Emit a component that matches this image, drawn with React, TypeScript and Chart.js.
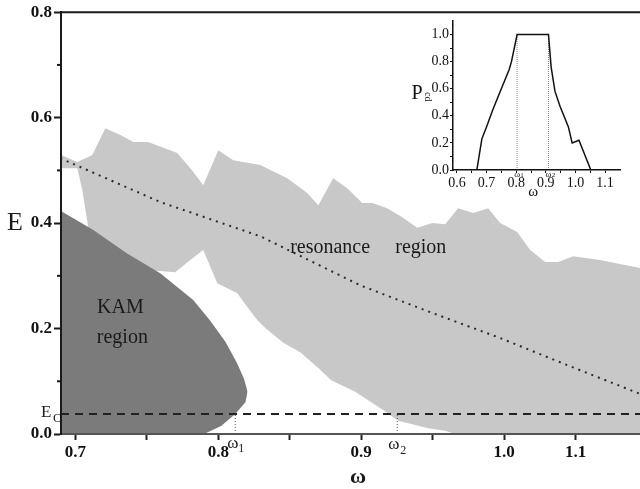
import React, { useEffect, useRef } from 'react';
import { Chart, registerables } from 'chart.js';

Chart.register(...registerables);

const FONT = "'Liberation Serif', 'Times New Roman', serif";

// ---- Main chart data (ω, E) ----
const resUpperOmega = [0.6902, 0.7014, 0.7119, 0.721, 0.7315, 0.7406, 0.751, 0.7713, 0.7818, 0.7895, 0.8, 0.8105, 0.8294, 0.8483, 0.8622, 0.87, 0.8804, 0.8902, 0.9007, 0.9077, 0.9182, 0.9287, 0.9392, 0.9497, 0.9587, 0.9678, 0.9783, 0.9888, 0.9972, 1.0091, 1.0182, 1.0287, 1.0378, 1.0483, 1.0671, 1.0951, 1.1];
const resUpperE = [0.529, 0.516, 0.529, 0.58, 0.567, 0.554, 0.554, 0.533, 0.5, 0.472, 0.538, 0.519, 0.51, 0.485, 0.457, 0.434, 0.485, 0.466, 0.438, 0.438, 0.428, 0.411, 0.391, 0.4, 0.398, 0.428, 0.419, 0.428, 0.4, 0.383, 0.349, 0.326, 0.326, 0.337, 0.33, 0.315, 0.314];
const resLowerOmega = [0.6902, 0.7014, 0.7049, 0.7077, 0.7105, 0.7315, 0.7545, 0.7699, 0.7804, 0.7895, 0.7993, 0.8133, 0.8203, 0.8273, 0.8329, 0.8455, 0.8573, 0.87, 0.879, 0.8958, 0.9161, 0.9259, 0.9469, 0.9587, 0.9657, 1.1];
const resLowerE = [0.504, 0.504, 0.463, 0.415, 0.368, 0.33, 0.31, 0.307, 0.33, 0.349, 0.286, 0.267, 0.241, 0.216, 0.201, 0.173, 0.155, 0.125, 0.102, 0.08, 0.044, 0.025, 0.011, 0.006, 0, 0];

const kamUpperOmega = [0.69, 0.7126, 0.736, 0.7594, 0.7825, 0.794, 0.805, 0.813, 0.818, 0.8205];
const kamUpperE = [0.423, 0.387, 0.343, 0.305, 0.254, 0.216, 0.175, 0.135, 0.105, 0.08];
const kamLowerOmega = [0.69, 0.79, 0.802, 0.8119, 0.819, 0.8205];
const kamLowerE = [0, 0, 0.015, 0.038, 0.06, 0.08];

const dottedOmega = [0.6895, 0.7594, 0.8294, 0.8993, 0.9483, 0.9972, 1.0392, 1.0671, 1.0951];
const dottedE = [0.523, 0.44, 0.375, 0.282, 0.231, 0.182, 0.136, 0.106, 0.076];

const E0 = 0.038;
const omega1 = 0.8119;
const omega2 = 0.9252;

const xTickValues = [0.7, 0.75, 0.8, 0.85, 0.9, 0.95, 1.0, 1.05];
const xTickLabels = ['0.7', '', '0.8', '', '0.9', '', '1.0', '1.1'];
const yTickValues = [0, 0.2, 0.4, 0.6, 0.8];
const yTickLabels = ['0.0', '0.2', '0.4', '0.6', '0.8'];
const yMinorTicks = [0.1, 0.3, 0.5, 0.7];

// ---- Inset data (ω, P_cd) ----
const insetOmega = [0.667, 0.684, 0.7, 0.72, 0.748, 0.776, 0.784, 0.803, 0.909, 0.918, 0.931, 0.948, 0.976, 0.989, 1.012, 1.052];
const insetP = [0, 0.23, 0.32, 0.44, 0.59, 0.74, 0.8, 1.0, 1.0, 0.76, 0.58, 0.47, 0.32, 0.2, 0.22, 0];
const insetOmega1 = 0.803;
const insetOmega2 = 0.909;
const insetXTickValues = [0.6, 0.65, 0.7, 0.75, 0.8, 0.85, 0.9, 0.95, 1.0, 1.05, 1.1];
const insetXTickLabels = ['0.6', '', '0.7', '', '0.8', '', '0.9', '', '1.0', '', '1.1'];
const insetYTickValues = [0, 0.1, 0.2, 0.3, 0.4, 0.5, 0.6, 0.7, 0.8, 0.9, 1.0];
const insetYTickLabels = ['0.0', '', '0.2', '', '0.4', '', '0.6', '', '0.8', '', '1.0'];

const pts = (xs: number[], ys: number[]) => xs.map((x, i) => ({ x, y: ys[i] }));
const NONE = 'rgba(0,0,0,0)';

const mainDecor = {
  id: 'mainDecor',
  afterDraw(chart: any) {
    const { ctx, chartArea: a, scales } = chart;
    const x = scales.x;
    const y = scales.y;
    ctx.save();
    ctx.strokeStyle = '#1a1a1a';
    ctx.lineWidth = 2;
    ctx.beginPath();
    ctx.moveTo(a.left - 1, a.top);
    ctx.lineTo(a.right, a.top);
    ctx.stroke();
    yMinorTicks.forEach((v) => {
      const py = y.getPixelForValue(v);
      ctx.beginPath();
      ctx.moveTo(a.left - 4, py);
      ctx.lineTo(a.left, py);
      ctx.stroke();
    });
    ctx.fillStyle = '#1a1a1a';
    ctx.textBaseline = 'middle';
    ctx.textAlign = 'center';
    ctx.font = `20px ${FONT}`;
    ctx.fillText('KAM', x.getPixelForValue(0.7315), y.getPixelForValue(0.239));
    ctx.fillText('region', x.getPixelForValue(0.7329), y.getPixelForValue(0.182));
    ctx.textAlign = 'left';
    ctx.fillText('resonance', x.getPixelForValue(0.8503), y.getPixelForValue(0.353));
    ctx.fillText('region', x.getPixelForValue(0.9238), y.getPixelForValue(0.353));
    // axis titles
    ctx.textAlign = 'center';
    ctx.font = `26px ${FONT}`;
    ctx.fillText('E', a.left - 46, y.getPixelForValue(0.4));
    ctx.font = `bold 22px ${FONT}`;
    ctx.fillText('ω', 358, 477);
    // E0 label
    const pe = y.getPixelForValue(E0);
    ctx.textAlign = 'left';
    ctx.textBaseline = 'alphabetic';
    ctx.font = `17px ${FONT}`;
    ctx.fillText('E', 41, pe + 3);
    ctx.font = `13px ${FONT}`;
    ctx.fillText('O', 53, pe + 8);
    // omega labels
    const p1 = x.getPixelForValue(omega1);
    const p2 = x.getPixelForValue(omega2);
    ctx.font = `17px ${FONT}`;
    ctx.fillText('ω', p1 - 8, a.bottom + 14);
    ctx.fillText('ω', p2 - 9, a.bottom + 15);
    ctx.font = `12px ${FONT}`;
    ctx.fillText('1', p1 + 3, a.bottom + 18);
    ctx.fillText('2', p2 + 3, a.bottom + 20);
    ctx.restore();
  },
};

const insetDecor = {
  id: 'insetDecor',
  afterDraw(chart: any) {
    const { ctx, chartArea: a, scales } = chart;
    const x = scales.x;
    ctx.save();
    ctx.fillStyle = '#111';
    ctx.textAlign = 'center';
    ctx.textBaseline = 'alphabetic';
    ctx.font = `20px ${FONT}`;
    ctx.fillText('P', 37, 99);
    ctx.save();
    ctx.translate(45, 92);
    ctx.rotate(Math.PI / 2);
    ctx.font = `10px ${FONT}`;
    ctx.textAlign = 'left';
    ctx.fillText('cd', 0, 0);
    ctx.restore();
    ctx.font = `15px ${FONT}`;
    ctx.fillText('ω', x.getPixelForValue(0.857), a.bottom + 26);
    ctx.font = `9px ${FONT}`;
    ctx.fillText('ω', x.getPixelForValue(insetOmega1), a.bottom + 7);
    ctx.fillText('ω', x.getPixelForValue(insetOmega2), a.bottom + 7);
    ctx.font = `7px ${FONT}`;
    ctx.fillText('1', x.getPixelForValue(insetOmega1) + 5, a.bottom + 7);
    ctx.fillText('2', x.getPixelForValue(insetOmega2) + 5, a.bottom + 7);
    ctx.restore();
  },
};

export default function App() {
  const mainRef = useRef<HTMLCanvasElement>(null);
  const insetRef = useRef<HTMLCanvasElement>(null);

  useEffect(() => {
    const lineBase = { pointRadius: 0, tension: 0, fill: false };
    const main = new Chart(mainRef.current as HTMLCanvasElement, {
      type: 'line',
      data: {
        datasets: [
          { ...lineBase, data: pts(resUpperOmega, resUpperE), fill: 1, backgroundColor: '#c8c8c8', borderColor: NONE, borderWidth: 0, order: 10 },
          { ...lineBase, data: pts(resLowerOmega, resLowerE), borderColor: NONE, borderWidth: 0, order: 10 },
          { ...lineBase, data: pts(kamUpperOmega, kamUpperE), fill: 3, backgroundColor: '#7b7b7b', borderColor: NONE, borderWidth: 0, order: 9 },
          { ...lineBase, data: pts(kamLowerOmega, kamLowerE), borderColor: NONE, borderWidth: 0, order: 9 },
          { ...lineBase, data: pts(dottedOmega, dottedE), borderColor: '#2a2a2a', borderWidth: 2, borderDash: [2, 5], order: 3 },
          { ...lineBase, data: [{ x: 0.69, y: E0 }, { x: 1.1, y: E0 }], borderColor: '#222', borderWidth: 2, borderDash: [8, 6], order: 2 },
          { ...lineBase, data: [{ x: omega1, y: 0 }, { x: omega1, y: E0 }], borderColor: '#555', borderWidth: 1, borderDash: [1, 2], order: 1 },
          { ...lineBase, data: [{ x: omega2, y: 0 }, { x: omega2, y: E0 }], borderColor: '#555', borderWidth: 1, borderDash: [1, 2], order: 1 },
        ],
      },
      options: {
        responsive: false,
        animation: false,
        layout: { padding: { top: 12, right: 0, left: 0, bottom: 0 } },
        plugins: { legend: { display: false }, tooltip: { enabled: false } },
        scales: {
          x: {
            type: 'linear',
            min: 0.69,
            max: 1.095,
            afterBuildTicks: (s: any) => { s.ticks = xTickValues.map((v) => ({ value: v })); },
            afterFit: (s: any) => { s.height = 55; },
            ticks: {
              callback: (_v: any, i: number) => xTickLabels[i],
              font: { family: FONT, size: 17, weight: 'bold' },
              color: '#111',
              padding: 2,
              maxRotation: 0,
              autoSkip: false,
            },
            grid: { drawOnChartArea: false, drawTicks: true, tickLength: 6, tickColor: '#222', tickWidth: 2 },
            border: { display: true, color: '#555', width: 2, z: 1 },
          },
          y: {
            type: 'linear',
            min: 0,
            max: 0.8,
            afterBuildTicks: (s: any) => { s.ticks = yTickValues.map((v) => ({ value: v })); },
            afterFit: (s: any) => { s.width = 61; },
            ticks: {
              callback: (_v: any, i: number) => yTickLabels[i],
              font: { family: FONT, size: 17, weight: 'bold' },
              color: '#111',
              padding: 2,
              autoSkip: false,
            },
            grid: { drawOnChartArea: false, drawTicks: true, tickLength: 7, tickColor: '#1a1a1a', tickWidth: 2 },
            border: { display: true, color: '#1a1a1a', width: 2, z: 1 },
          },
        },
      } as any,
      plugins: [mainDecor],
    });

    const inset = new Chart(insetRef.current as HTMLCanvasElement, {
      type: 'line',
      data: {
        datasets: [
          { ...lineBase, data: pts(insetOmega, insetP), borderColor: '#111', borderWidth: 1.5, order: 1 },
          { ...lineBase, data: [{ x: insetOmega1, y: 0 }, { x: insetOmega1, y: 1.0 }], borderColor: '#888', borderWidth: 1, borderDash: [1, 1], order: 2 },
          { ...lineBase, data: [{ x: insetOmega2, y: 0 }, { x: insetOmega2, y: 1.0 }], borderColor: '#888', borderWidth: 1, borderDash: [1, 1], order: 2 },
        ],
      },
      options: {
        responsive: false,
        animation: false,
        layout: { padding: { top: 21, right: 10, left: 0, bottom: 0 } },
        plugins: { legend: { display: false }, tooltip: { enabled: false } },
        scales: {
          x: {
            type: 'linear',
            min: 0.5865,
            max: 1.1506,
            afterBuildTicks: (s: any) => { s.ticks = insetXTickValues.map((v) => ({ value: v })); },
            afterFit: (s: any) => { s.height = 45; },
            ticks: {
              callback: (_v: any, i: number) => insetXTickLabels[i],
              font: { family: FONT, size: 14 },
              color: '#111',
              padding: 2,
              maxRotation: 0,
              autoSkip: false,
            },
            grid: { drawOnChartArea: false, drawTicks: true, tickLength: 3, tickColor: '#111', tickWidth: 1 },
            border: { display: true, color: '#111', width: 1.5, z: 1 },
          },
          y: {
            type: 'linear',
            min: 0,
            max: 1.1,
            afterBuildTicks: (s: any) => { s.ticks = insetYTickValues.map((v) => ({ value: v })); },
            afterFit: (s: any) => { s.width = 73; },
            ticks: {
              callback: (_v: any, i: number) => insetYTickLabels[i],
              font: { family: FONT, size: 14 },
              color: '#111',
              padding: 1,
              autoSkip: false,
            },
            grid: { drawOnChartArea: false, drawTicks: true, tickLength: 3, tickColor: '#111', tickWidth: 1 },
            border: { display: true, color: '#111', width: 1.5, z: 1 },
          },
        },
      } as any,
      plugins: [insetDecor],
    });

    return () => {
      main.destroy();
      inset.destroy();
    };
  }, []);

  return (
    <div style={{ position: 'absolute', left: 0, top: 0, width: 640, height: 489, background: '#fff', overflow: 'hidden' }}>
      <canvas ref={mainRef} width={640} height={489} style={{ position: 'absolute', left: 0, top: 0, width: 640, height: 489 }} />
      <canvas ref={insetRef} width={250} height={215} style={{ position: 'absolute', left: 380, top: 0, width: 250, height: 215 }} />
    </div>
  );
}
